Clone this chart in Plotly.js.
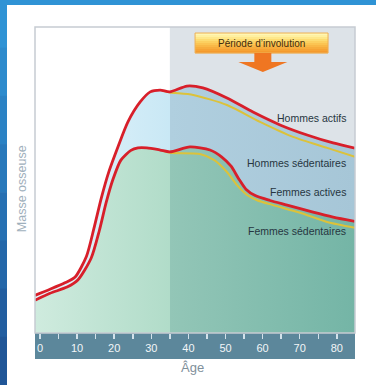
<!DOCTYPE html>
<html>
<head>
<meta charset="utf-8">
<script src="https://cdn.plot.ly/plotly-3.0.1.min.js"></script>
<style>
  html, body { margin: 0; padding: 0; background: #ffffff; }
  #chart { width: 376px; height: 385px; }
</style>
</head>
<body>
<div id="chart"></div>
<script>
// Bone mass over a lifetime (arbitrary units), by sex and activity level
const agesHommesActifs = [-1.35, 2.7, 6.7, 9.4, 12.5, 14.5, 16.5, 18.5, 21.0, 23.7, 27.0, 29.7, 32.4, 35.0, 39.6, 43.9, 50.4, 57.4, 64.7, 72.0, 79.0, 84.9];
const hommesActifs     = [12.3, 14.3, 16.4, 18.2, 25.0, 34.0, 44.0, 52.5, 60.8, 69.0, 75.5, 78.8, 79.4, 78.8, 80.7, 80.1, 76.8, 72.2, 68.0, 64.7, 62.1, 60.4];

const agesHommesSed = [33.0, 35.0, 41.3, 50.4, 59.3, 68.2, 77.4, 84.9];
const hommesSed     = [79.2, 78.6, 77.8, 74.5, 69.0, 64.1, 60.5, 57.6];

const agesFemmesActives = [-1.35, 2.7, 7.3, 10.2, 13.8, 16.0, 17.8, 19.6, 21.8, 24.5, 26.4, 28.8, 32.4, 35.0, 40.4, 45.8, 49.0, 51.5, 53.5, 55.5, 58.0, 62.0, 66.6, 73.6, 79.0, 84.9];
const femmesActives     = [10.7, 13.0, 15.0, 17.3, 24.5, 33.5, 42.5, 50.0, 56.5, 59.7, 60.5, 60.5, 59.8, 59.2, 60.8, 59.8, 57.5, 54.5, 50.5, 47.0, 44.9, 43.3, 41.8, 39.5, 37.9, 36.5];

const agesFemmesSed = [33.0, 35.0, 43.1, 47.0, 50.4, 53.0, 55.8, 58.5, 62.8, 70.1, 77.4, 84.9];
const femmesSed     = [59.6, 58.9, 58.5, 56.5, 52.6, 48.5, 45.1, 43.4, 41.8, 39.3, 36.3, 34.4];

const ageTicks = [0, 10, 20, 30, 40, 50, 60, 70, 80];
const debutInvolution = 35;
const xRange = [-1.35, 84.9];

const seriesLabels = [
  { text: 'Hommes actifs', y: 70.4 },
  { text: 'Hommes sédentaires', y: 55.7 },
  { text: 'Femmes actives', y: 46.0 },
  { text: 'Femmes sédentaires', y: 33.3 }
];

const FONT = 'Liberation Sans, Arial, sans-serif';

// position of the involution boundary within the gradient span
const cut = (debutInvolution - xRange[0]) / (xRange[1] - xRange[0]);
const curve = { shape: 'spline', smoothing: 0.7 };

const traces = [
  {
    x: agesHommesActifs, y: hommesActifs, type: 'scatter', mode: 'lines',
    line: Object.assign({ width: 0 }, curve), fill: 'tozeroy',
    fillgradient: {
      type: 'horizontal', start: xRange[0], stop: xRange[1],
      colorscale: [[0, '#e6f5fb'], [cut - 0.0002, '#c9e8f5'], [cut + 0.0002, '#b0cfdf'], [1, '#a6c6d7']]
    },
    hoverinfo: 'skip', showlegend: false
  },
  {
    x: agesFemmesActives, y: femmesActives, type: 'scatter', mode: 'lines',
    line: Object.assign({ width: 0 }, curve), fill: 'tozeroy',
    fillgradient: {
      type: 'horizontal', start: xRange[0], stop: xRange[1],
      colorscale: [[0, '#cfebde'], [cut - 0.0002, '#b1dcc9'], [cut + 0.0002, '#93c6b7'], [1, '#74b5a6']]
    },
    hoverinfo: 'skip', showlegend: false
  },
  {
    x: agesHommesSed, y: hommesSed, type: 'scatter', mode: 'lines',
    line: Object.assign({ color: '#dcc23a', width: 2 }, curve),
    name: 'Hommes sédentaires', showlegend: false
  },
  {
    x: agesFemmesSed, y: femmesSed, type: 'scatter', mode: 'lines',
    line: Object.assign({ color: '#dcc23a', width: 2 }, curve),
    name: 'Femmes sédentaires', showlegend: false
  },
  {
    x: agesHommesActifs, y: hommesActifs, type: 'scatter', mode: 'lines',
    line: Object.assign({ color: '#d81f2a', width: 2.8 }, curve),
    name: 'Hommes actifs', showlegend: false
  },
  {
    x: agesFemmesActives, y: femmesActives, type: 'scatter', mode: 'lines',
    line: Object.assign({ color: '#d81f2a', width: 2.8 }, curve),
    name: 'Femmes actives', showlegend: false
  }
];

const shapes = [];

// blue page frame: top band and a shaded left band
shapes.push({
  type: 'rect', xref: 'paper', yref: 'paper', ysizemode: 'pixel', yanchor: 1,
  x0: -0.2, x1: 1.2, y0: 22, y1: 40, line: { width: 0 }, fillcolor: '#2f93d5', layer: 'below'
});
const leftBand = ['#2f93d5', '#2d8bcd', '#2b82c4', '#2979bb', '#2770b2', '#2467a9', '#225ea0', '#205697'];
const yTop = 1.09, yBot = -0.17;
leftBand.forEach((c, i) => {
  const h = (yTop - yBot) / leftBand.length;
  shapes.push({
    type: 'rect', xref: 'paper', yref: 'paper', xsizemode: 'pixel', xanchor: 0,
    x0: -40, x1: -28, y0: yTop - (i + 1) * h - 0.002, y1: yTop - i * h,
    line: { width: 0 }, fillcolor: c, layer: 'below'
  });
});

// grey band marking the involution period
shapes.push({
  type: 'rect', xref: 'x', yref: 'paper', x0: debutInvolution, x1: xRange[1] + 1, y0: 0, y1: 1,
  line: { width: 0 }, fillcolor: '#dde3e8', layer: 'below'
});

// age strip under the plot
shapes.push({
  type: 'rect', xref: 'paper', yref: 'paper', ysizemode: 'pixel', yanchor: 0,
  x0: 0, x1: 1, y0: -26, y1: 0, line: { width: 0 }, fillcolor: '#5c879b', layer: 'below'
});

// plot frame
shapes.push({
  type: 'rect', xref: 'paper', yref: 'paper', x0: 0, x1: 1, y0: 0, y1: 1,
  line: { color: '#c6ccd2', width: 1.5 }, fillcolor: 'rgba(0,0,0,0)', layer: 'above'
});

// "Période d'involution" callout: gradient box and downward arrow
const boxAnchor = 0.708;
const boxGrad = ['#fff6b4', '#fff0a0', '#fee78a', '#fddc72', '#fcd060', '#fbc452', '#f9b846', '#f7ac3c', '#f6a234', '#f49a2e'];
boxGrad.forEach((c, i) => {
  shapes.push({
    type: 'rect', xref: 'paper', yref: 'paper', xsizemode: 'pixel', ysizemode: 'pixel',
    xanchor: boxAnchor, yanchor: 1,
    x0: -66.5, x1: 66.5, y0: -6 - i * 2, y1: -6 - (i + 1) * 2 - 0.3,
    line: { width: 0 }, fillcolor: c, layer: 'above'
  });
});
shapes.push({
  type: 'rect', xref: 'paper', yref: 'paper', xsizemode: 'pixel', ysizemode: 'pixel',
  xanchor: boxAnchor, yanchor: 1, x0: -66.5, x1: 66.5, y0: -6, y1: -26,
  line: { color: '#eeb055', width: 1 }, fillcolor: 'rgba(0,0,0,0)', layer: 'above'
});
shapes.push({
  type: 'path', xref: 'paper', yref: 'paper', xsizemode: 'pixel', ysizemode: 'pixel',
  xanchor: boxAnchor + 0.004, yanchor: 1,
  path: 'M -8.5 -26 L 8.5 -26 L 8.5 -35 L 24.5 -35 L 0 -45 L -24.5 -35 L -8.5 -35 Z',
  line: { width: 0 }, fillcolor: '#ef7622', layer: 'above'
});

const annotations = seriesLabels.map(s => ({
  text: s.text, xref: 'paper', yref: 'y', x: 0.978, y: s.y,
  xanchor: 'right', yanchor: 'middle', showarrow: false,
  font: { family: FONT, size: 10.5, color: '#263641' }
}));
annotations.push({
  text: 'Période d\u2019involution', xref: 'paper', yref: 'paper', x: boxAnchor, y: 1,
  yshift: -16, xanchor: 'center', yanchor: 'middle', showarrow: false,
  font: { family: FONT, size: 10, color: '#3f2c0e' }
});
annotations.push({
  text: 'Masse osseuse', xref: 'paper', yref: 'paper', x: -0.0406, y: 0.47,
  xanchor: 'center', yanchor: 'middle', textangle: -90, showarrow: false,
  font: { family: FONT, size: 12.5, color: '#9fb0bc' }
});
annotations.push({
  text: 'Âge', xref: 'paper', yref: 'paper', x: 0.492, y: -0.114,
  xanchor: 'center', yanchor: 'middle', showarrow: false,
  font: { family: FONT, size: 13, color: '#7f909b' }
});

const layout = {
  width: 376, height: 385,
  margin: { l: 35, r: 21, t: 27, b: 52, pad: 0 },
  paper_bgcolor: '#ffffff', plot_bgcolor: '#ffffff',
  showlegend: false,
  xaxis: {
    range: xRange, tickvals: ageTicks, ticktext: ageTicks.map(String),
    ticks: 'outside', ticklen: 5, tickwidth: 1.5, tickcolor: '#d3e2ea',
    minor: { dtick: 5, tick0: 0, ticks: 'outside', ticklen: 5, tickwidth: 1.5, tickcolor: '#d3e2ea' },
    tickfont: { family: FONT, size: 11, color: '#f2f6f8' },
    showgrid: false, zeroline: false, showline: false, fixedrange: true
  },
  yaxis: {
    range: [0, 100], showticklabels: false, ticks: '', showgrid: false,
    zeroline: false, showline: false, fixedrange: true
  },
  shapes: shapes,
  annotations: annotations
};

Plotly.newPlot('chart', traces, layout, { displayModeBar: false, staticPlot: true });
</script>
</body>
</html>
